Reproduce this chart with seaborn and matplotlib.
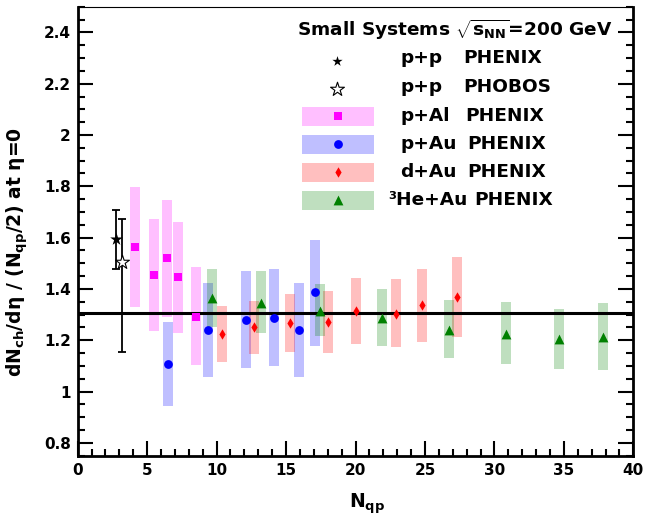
import numpy as np
import pandas as pd
import matplotlib
matplotlib.use("Agg")
import matplotlib.pyplot as plt
import seaborn as sns
from matplotlib.patches import Rectangle
from matplotlib.ticker import MultipleLocator, FuncFormatter

# ---- data ----
pp_phenix_x = [2.76]
pp_phenix_y = [1.593]
pp_phenix_err = [0.115]

pp_phobos_x = [3.17]
pp_phobos_y = [1.504]
pp_phobos_lo = [0.348]
pp_phobos_hi = [0.168]

pal_x = [4.10, 5.49, 6.41, 7.20, 8.50]
pal_y = [1.563, 1.454, 1.521, 1.445, 1.291]
pal_lo = [1.331, 1.237, 1.292, 1.230, 1.102]
pal_hi = [1.797, 1.672, 1.746, 1.660, 1.485]

pau_x = [6.48, 9.40, 12.10, 14.13, 15.93, 17.11]
pau_y = [1.109, 1.238, 1.280, 1.287, 1.238, 1.387]
pau_lo = [0.945, 1.055, 1.092, 1.098, 1.055, 1.179]
pau_hi = [1.273, 1.422, 1.470, 1.478, 1.422, 1.590]

dau_x = [10.41, 12.71, 15.31, 18.00, 20.04, 22.94, 24.77, 27.31]
dau_y = [1.225, 1.251, 1.266, 1.273, 1.313, 1.304, 1.338, 1.369]
dau_lo = [1.117, 1.146, 1.154, 1.151, 1.185, 1.172, 1.195, 1.214]
dau_hi = [1.334, 1.354, 1.380, 1.393, 1.441, 1.439, 1.479, 1.524]

heau_x = [9.70, 13.20, 17.42, 21.93, 26.70, 30.82, 34.67, 37.85]
heau_y = [1.364, 1.347, 1.315, 1.286, 1.240, 1.223, 1.203, 1.212]
heau_lo = [1.253, 1.228, 1.216, 1.176, 1.132, 1.108, 1.088, 1.084]
heau_hi = [1.478, 1.471, 1.418, 1.400, 1.356, 1.348, 1.321, 1.344]

avg_value = 1.305

systems = [
    # x, y, lo, hi, colour, marker, size
    (pal_x, pal_y, pal_lo, pal_hi, "#ff00ff", "s", 34),
    (pau_x, pau_y, pau_lo, pau_hi, "#0000ff", "o", 40),
    (dau_x, dau_y, dau_lo, dau_hi, "#ff0000", "d", 28),
    (heau_x, heau_y, heau_lo, heau_hi, "#008000", "^", 50),
]

sns.set_theme(style="ticks")
plt.rcParams.update({
    "font.family": ["DejaVu Sans"],
    "font.weight": "bold",
    "axes.labelweight": "bold",
    "text.color": "black",
    "axes.labelcolor": "black",
    "xtick.color": "black",
    "ytick.color": "black",
    "mathtext.fontset": "custom",
    "mathtext.rm": "DejaVu Sans:bold",
    "mathtext.it": "DejaVu Sans:bold",
    "mathtext.bf": "DejaVu Sans:bold",
    "mathtext.sf": "DejaVu Sans",
})

fig = plt.figure(figsize=(6.45, 5.17), dpi=100)
ax = fig.add_axes([77.7 / 645, (517 - 455.7) / 517, 555.6 / 645, 449 / 517])

# systematic boxes
for xs, ys, lo, hi, col, mk, sz in systems:
    lo = np.array(lo)
    hi = np.array(hi)
    ax.bar(xs, hi - lo, bottom=lo, width=0.72, color=col, alpha=0.25,
           linewidth=0, zorder=1)

ax.axhline(avg_value, color="black", lw=2.2, zorder=2)

# p+p error bars
ax.errorbar(pp_phenix_x, pp_phenix_y, yerr=pp_phenix_err, fmt="none",
            ecolor="black", elinewidth=1.3, capsize=3, capthick=1.3, zorder=3)
ax.errorbar(pp_phobos_x, pp_phobos_y, yerr=[pp_phobos_lo, pp_phobos_hi],
            fmt="none", ecolor="black", elinewidth=1.3, capsize=3,
            capthick=1.3, zorder=3)

for xs, ys, lo, hi, col, mk, sz in systems:
    sns.scatterplot(x=xs, y=ys, marker=mk, color=col, s=sz, linewidth=0,
                    ax=ax, zorder=4, legend=False)

sns.scatterplot(x=pp_phenix_x, y=pp_phenix_y, marker="*", color="black",
                s=90, linewidth=0, ax=ax, zorder=5, legend=False)
sns.scatterplot(x=pp_phobos_x, y=pp_phobos_y, marker="*", color="white",
                edgecolor="black", s=110, linewidth=0.8, ax=ax, zorder=5,
                legend=False)

# axes
ax.set_xlim(0, 40)
ax.set_ylim(0.75, 2.5)
ax.xaxis.set_major_locator(MultipleLocator(5))
ax.xaxis.set_minor_locator(MultipleLocator(1))
ax.yaxis.set_major_locator(MultipleLocator(0.2))
ax.yaxis.set_minor_locator(MultipleLocator(0.05))
ax.yaxis.set_major_formatter(FuncFormatter(lambda v, p: "{:g}".format(round(v, 2))))
ax.tick_params(which="both", direction="in", right=True, top=False,
               width=1.5, labelsize=11, colors="black")
ax.tick_params(which="major", length=11, pad=5)
ax.tick_params(which="minor", length=5)
for side in ["left", "bottom", "right"]:
    ax.spines[side].set_linewidth(2)
ax.spines["top"].set_linewidth(0.8)
for s in ax.spines.values():
    s.set_color("black")

ax.set_xlabel(r"N$_{qp}$", fontsize=13.5)
ax.set_ylabel(r"dN$_{ch}$/d$\mathsf{\eta}$ / (N$_{qp}$/2) at $\mathsf{\eta}$=0",
              fontsize=13.5)
ax.xaxis.set_label_coords(0.521, -0.080)
ax.yaxis.set_label_coords(-0.086, 0.454)


# legend drawn by hand, positions given in pixels of the figure
def ax_pos(px, py):
    return ((px - 77.7) / 555.6, (455.7 - py) / 449.0)


leg_size = 13.3
ax.text(*ax_pos(297, 30), r"Small Systems $\sqrt{s_{NN}}$=200 GeV",
        transform=ax.transAxes, ha="left", va="center", fontsize=leg_size)

ax.scatter(*ax_pos(337.3, 60.7), marker="*", color="black", s=60,
           linewidth=0, transform=ax.transAxes, zorder=6, clip_on=False)
ax.scatter(*ax_pos(337.3, 89), marker="*", color="white", edgecolor="black",
           s=110, linewidth=0.8, transform=ax.transAxes, zorder=6, clip_on=False)
ax.text(*ax_pos(400, 58.3), "p+p", transform=ax.transAxes, ha="left",
        va="center", fontsize=leg_size)
ax.text(*ax_pos(463, 58.3), "PHENIX", transform=ax.transAxes, ha="left",
        va="center", fontsize=leg_size)
ax.text(*ax_pos(400, 87.3), "p+p", transform=ax.transAxes, ha="left",
        va="center", fontsize=leg_size)
ax.text(*ax_pos(463, 87.3), "PHOBOS", transform=ax.transAxes, ha="left",
        va="center", fontsize=leg_size)

leg_names = ["p+Al", "p+Au", "d+Au", "\u00b3He+Au"]
leg_name_x = [400, 400, 400, 388]
leg_exp_x = [465.7, 467.7, 467.7, 474]
leg_row_y = [116, 144, 172, 200]
for (xs, ys, lo, hi, col, mk, sz), name, nx, ex, ry in zip(
        systems, leg_names, leg_name_x, leg_exp_x, leg_row_y):
    x0, y0 = ax_pos(302, ry + 9.5)
    x1, y1 = ax_pos(374, ry - 9.5)
    ax.add_patch(Rectangle((x0, y0), x1 - x0, y1 - y0, transform=ax.transAxes,
                           color=col, alpha=0.25, linewidth=0, clip_on=False))
    ax.scatter(*ax_pos(338, ry), marker=mk, color=col, s=sz, linewidth=0,
               transform=ax.transAxes, zorder=6, clip_on=False)
    ax.text(*ax_pos(nx, ry), name, transform=ax.transAxes, ha="left",
            va="center", fontsize=leg_size)
    ax.text(*ax_pos(ex, ry), "PHENIX", transform=ax.transAxes, ha="left",
            va="center", fontsize=leg_size)

fig.savefig("out.png", dpi=100, facecolor="white")
